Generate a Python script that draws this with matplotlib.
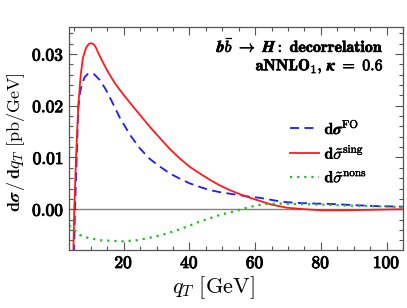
import matplotlib
matplotlib.use('Agg')
import matplotlib.pyplot as plt
import matplotlib.patheffects as pe
from matplotlib.ticker import MultipleLocator, FuncFormatter

plt.rcParams['mathtext.fontset'] = 'cm'
plt.rcParams['font.family'] = 'serif'
plt.rcParams['font.serif'] = ['DejaVu Serif']

# d sigma^FO
qt_fo = [4.87, 5.18, 5.69, 6.18, 6.7, 7.2, 8.1, 9.0, 10.1, 11.0, 12.7, 14.5, 16.5, 18.9,
         22.0, 25.0, 28.0, 31.1, 34.1, 37.1, 40.1, 43.2, 46.2, 49.3, 52.3, 55.4, 58.5,
         61.5, 65.0, 68.6, 73.7, 78.0, 83.8, 90.0, 97.0, 105.0]
fo = [-0.0086, 0.0, 0.0098, 0.0195, 0.0225, 0.0240, 0.0255, 0.0261, 0.0263, 0.0261, 0.0250,
      0.0232, 0.0207, 0.0176, 0.0143, 0.0117, 0.0097, 0.0082, 0.0069, 0.0059, 0.0050,
      0.0043, 0.0037, 0.0033, 0.0030, 0.0027, 0.0024, 0.0022, 0.0018, 0.0014, 0.0012,
      0.0011, 0.0010, 0.0008, 0.0006, 0.0005]

# d sigma~^sing
qt_sing = [4.66, 4.96, 5.48, 6.18, 6.91, 7.6, 8.5, 9.3, 10.0, 10.5, 11.0, 11.5, 12.0, 12.5,
           13.2, 14.0, 15.0, 16.2, 17.5, 18.9, 20.0, 22.0, 25.0, 28.0, 31.1, 34.1, 37.1,
           40.1, 43.2, 46.2, 49.3, 52.3, 55.4, 58.5, 61.5, 65.0, 69.6, 75.0, 80.0, 88.0,
           96.0, 105.0]
sing = [-0.0086, 0.0, 0.0098, 0.0201, 0.0259, 0.0293, 0.0311, 0.0319, 0.0321, 0.0320,
        0.0318, 0.0313, 0.0306, 0.0299, 0.0290, 0.0280, 0.0268, 0.0255, 0.0242, 0.0230,
        0.0221, 0.0205, 0.0182, 0.0159, 0.0137, 0.0116, 0.0098, 0.0082, 0.0069, 0.0057,
        0.0046, 0.0037, 0.0029, 0.0022, 0.0016, 0.0009, 0.0003, 0.0, -0.0002, -0.0002,
        -0.0001, 0.0]

# d sigma~^nons
qt_nons = [3.35, 5.18, 6.7, 9.0, 12.8, 16.0, 19.9, 24.0, 28.0, 32.0, 36.1, 39.5, 42.7, 46.0,
           49.3, 53.0, 56.4, 59.5, 62.5, 67.0, 73.7, 80.0, 88.0, 96.0, 105.0]
nons = [-0.0031, -0.0041, -0.0050, -0.0055, -0.0060, -0.0061, -0.0062, -0.0060, -0.0055,
        -0.0049, -0.0041, -0.0033, -0.0025, -0.0018, -0.0011, -0.0005, 0.0001, 0.0006,
        0.0010, 0.0011, 0.0010, 0.0009, 0.0007, 0.0006, 0.0004]

x_ticks = [20, 40, 60, 80, 100]
y_ticks = [0.0, 0.01, 0.02, 0.03]


def main():
    fig = plt.figure(figsize=(4.07, 3.08), dpi=100)
    ax = fig.add_axes([0.1695, 0.188, 0.8205, 0.724])

    bold = [pe.withStroke(linewidth=0.7, foreground='black')]

    ax.axhline(0.0, color='#808080', linewidth=1.0, zorder=1)

    ax.plot(qt_fo, fo, color='#1a1aff', linestyle=(0, (5, 3)), linewidth=1.3,
            label=r'$\mathbf{d}\boldsymbol{\sigma}^{\mathrm{FO}}$')
    ax.plot(qt_sing, sing, color='#ff1a1a', linestyle='-', linewidth=1.3,
            label=r'$\mathbf{d}\boldsymbol{\tilde{\sigma}}^{\mathrm{sing}}$')
    ax.plot(qt_nons, nons, color='#22bb22', linestyle=(0, (1, 2.2)), linewidth=1.6,
            label=r'$\mathbf{d}\boldsymbol{\tilde{\sigma}}^{\mathrm{nons}}$')

    ax.set_xlim(3.35, 105.0)
    ax.set_ylim(-0.0079, 0.0352)

    ax.set_xticks(x_ticks)
    ax.set_yticks(y_ticks)
    ax.xaxis.set_minor_locator(MultipleLocator(5))
    ax.yaxis.set_minor_locator(MultipleLocator(0.002))
    ax.xaxis.set_major_formatter(FuncFormatter(lambda v, p: r'$\mathbf{%d}$' % v))
    ax.yaxis.set_major_formatter(FuncFormatter(lambda v, p: r'$\mathbf{%.2f}$' % v))

    ax.tick_params(which='both', direction='in', top=True, right=True,
                   color='#555555', labelsize=12.5)
    ax.tick_params(which='major', length=6, width=0.8)
    ax.tick_params(which='minor', length=3, width=0.8)
    for s in ax.spines.values():
        s.set_color('#555555')
        s.set_linewidth(0.9)
    for lab in ax.get_xticklabels() + ax.get_yticklabels():
        lab.set_path_effects(bold)

    ax.set_xlabel(r'$\boldsymbol{q_T}\ \mathrm{[GeV]}$', fontsize=16)
    ax.xaxis.set_label_coords(0.431, -0.11)
    ax.set_ylabel(r'$\mathbf{d}\boldsymbol{\sigma}\,/\,\mathbf{d}\boldsymbol{q_T}\ \mathrm{[pb/GeV]}$',
                  fontsize=13)
    ax.yaxis.set_label_coords(-0.125, 0.486)

    t1 = ax.text(0.943, 0.91,
                 r'$\boldsymbol{b\bar{b}}\ \boldsymbol{\rightarrow}\ \boldsymbol{H}\mathbf{:}\ \mathbf{decorrelation}$',
                 transform=ax.transAxes, ha='right', va='center', fontsize=11.5)
    t2 = ax.text(0.943, 0.822, r'$\mathbf{aNNLO_1,}\,\boldsymbol{\kappa}\ \mathbf{=}\ \mathbf{0.6}$',
                 transform=ax.transAxes, ha='right', va='center', fontsize=11.5)
    t1.set_path_effects([pe.withStroke(linewidth=0.5, foreground='black')])
    t2.set_path_effects([pe.withStroke(linewidth=0.5, foreground='black')])

    leg = ax.legend(loc='upper left', bbox_to_anchor=(0.662, 0.585), frameon=False,
                    fontsize=11.5, handlelength=1.8, handletextpad=0.35, labelspacing=0.4,
                    borderpad=0, borderaxespad=0)
    for txt in leg.get_texts():
        txt.set_path_effects([pe.withStroke(linewidth=0.3, foreground='black')])

    fig.savefig('out.png', dpi=100)


if __name__ == '__main__':
    main()
